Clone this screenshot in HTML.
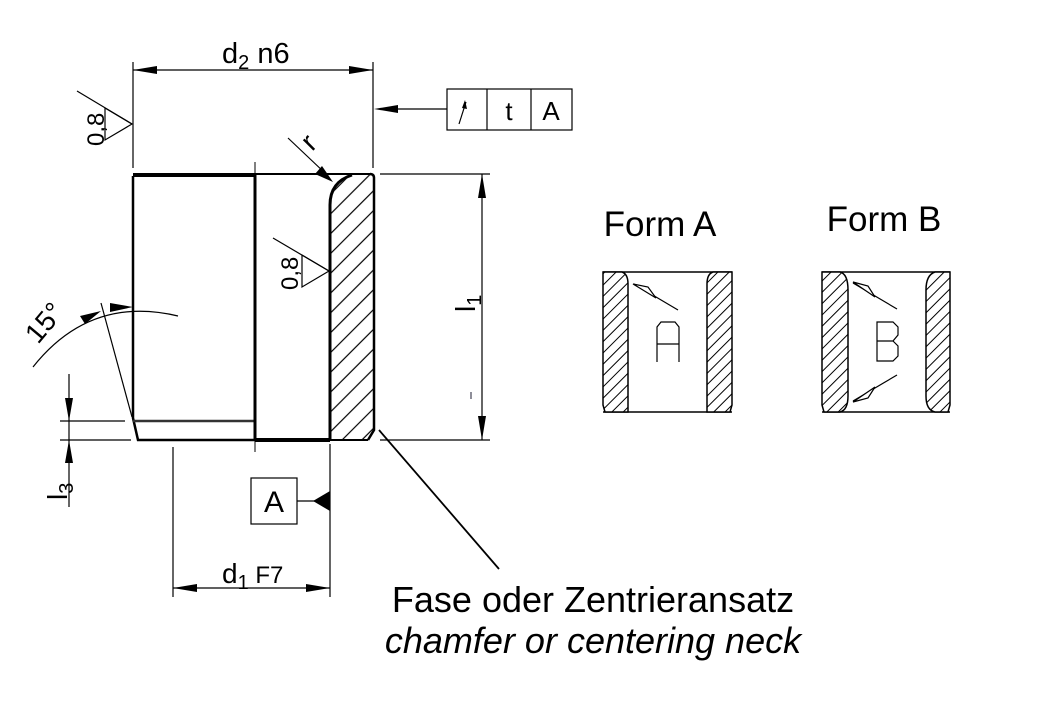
<!DOCTYPE html>
<html><head><meta charset="utf-8"><style>
html,body{margin:0;padding:0;background:#fff}
svg{display:block}
text{font-family:"Liberation Sans",sans-serif;fill:#000;stroke:none}
</style></head><body>
<svg width="1050" height="701" viewBox="0 0 1050 701" xmlns="http://www.w3.org/2000/svg">
<defs>
<pattern id="h" patternUnits="userSpaceOnUse" width="14" height="14" patternTransform="rotate(-45)">
<rect width="14" height="14" fill="#fff"/><line x1="0" y1="7" x2="14" y2="7" stroke="#000" stroke-width="1.2"/>
</pattern>
<pattern id="h2" patternUnits="userSpaceOnUse" width="8" height="8" patternTransform="rotate(-45)">
<rect width="8" height="8" fill="#fff"/><line x1="0" y1="4" x2="8" y2="4" stroke="#000" stroke-width="1"/>
</pattern>
</defs>
<g stroke="#000" fill="none">
<path d="M352,175 L371,175 Q373,175 373,178 L373,430 L368,440 L330,440 L330,205 Q330,182 352,175 Z" fill="url(#h)" stroke="none"/>
<line x1="133" y1="175" x2="255" y2="175" stroke-width="4"/>
<line x1="255" y1="174" x2="370" y2="174" stroke-width="2"/>
<path d="M370,174 Q374,174 374,178 L374,430 L368,440" stroke-width="2.5"/>
<path d="M133,176 L133,418 L138,440 L255,440" stroke-width="2.5"/>
<line x1="133" y1="421" x2="255" y2="421" stroke-width="2.5" stroke="#333"/>
<line x1="255" y1="174" x2="255" y2="440" stroke-width="3"/>
<line x1="255" y1="440" x2="330" y2="440" stroke-width="4"/>
<line x1="330" y1="440" x2="368" y2="440" stroke-width="2"/>
<path d="M330,440 L330,205 Q330,182 352,175" stroke-width="3"/>
<line x1="255" y1="162" x2="255" y2="174" stroke-width="1"/>
<line x1="255" y1="440" x2="255" y2="452" stroke-width="1"/>
<g stroke-width="1.2">
<line x1="133" y1="62" x2="133" y2="168"/>
<line x1="373" y1="62" x2="373" y2="168"/>
<line x1="133" y1="70" x2="373" y2="70"/>
<line x1="77" y1="91" x2="132" y2="124"/>
<polyline points="105,108 132,124 105,140 105,108"/>
<line x1="380" y1="109" x2="447" y2="109"/>
<rect x="447" y="89" width="125" height="41"/>
<line x1="487" y1="89" x2="487" y2="130"/>
<line x1="531" y1="89" x2="531" y2="130"/>
<line x1="459" y1="124" x2="466" y2="102"/>
<line x1="288" y1="138" x2="326" y2="174"/>
<line x1="273" y1="238" x2="329" y2="271"/>
<polyline points="302,255 329,271 302,287 302,255"/>
<line x1="380" y1="174" x2="490" y2="174"/>
<line x1="380" y1="440" x2="490" y2="440"/>
<line x1="482" y1="174" x2="482" y2="440"/>
<line x1="471" y1="392" x2="471" y2="399" stroke="#445"/>
<line x1="101" y1="303" x2="132" y2="417"/>
<path d="M33,367 Q90,295 178,316"/>
<line x1="69" y1="374" x2="69" y2="507"/>
<line x1="60" y1="421" x2="125" y2="421"/>
<line x1="60" y1="440" x2="131" y2="440"/>
<line x1="173" y1="447" x2="173" y2="597"/>
<line x1="330" y1="444" x2="330" y2="597"/>
<line x1="173" y1="588" x2="330" y2="588"/>
<rect x="251" y="478" width="46" height="46"/>
<line x1="297" y1="501" x2="318" y2="501"/>
<line x1="379" y1="430" x2="499" y2="569" stroke-width="1.8"/>
</g>
<g fill="#000" stroke="none">
<polygon points="133,70 157,66 157,74"/>
<polygon points="373,70 349,66 349,74"/>
<polygon points="374,109 398,105 398,113"/>
<polygon points="333,182 315,174 322,166"/>
<polygon points="482,174 478,198 486,198"/>
<polygon points="482,440 478,416 486,416"/>
<polygon points="101,311 80,316 85,324"/>
<polygon points="133,307 110,303 110,312"/>
<polygon points="69,421 65,398 73,398"/>
<polygon points="69,440 65,463 73,463"/>
<polygon points="173,588 197,584 197,592"/>
<polygon points="330,588 306,584 306,592"/>
<polygon points="313,501 330,491 330,511"/>
<polygon points="465,100 462,108 467,109"/>
</g>
</g>
<text x="222" y="63" font-size="29">d<tspan font-size="20" dy="6">2</tspan><tspan dy="-6"> n6</tspan></text>
<text transform="translate(104,146) rotate(-90)" font-size="24">0,8</text>
<text transform="translate(298,290) rotate(-90)" font-size="24">0,8</text>
<text x="509" y="120" font-size="26" text-anchor="middle">t</text>
<text x="551" y="120" font-size="26" text-anchor="middle">A</text>
<text x="274" y="512" font-size="30" text-anchor="middle">A</text>
<text transform="translate(312,152) rotate(-45)" font-size="28">r</text>
<text transform="translate(475,312) rotate(-90)" font-size="28">l<tspan font-size="20" dy="6">1</tspan></text>
<text transform="translate(67,500) rotate(-90)" font-size="28">l<tspan font-size="20" dy="6">3</tspan></text>
<text transform="translate(38,345) rotate(-50)" font-size="28">15°</text>
<text x="222" y="583" font-size="28">d<tspan font-size="20" dy="6">1</tspan><tspan dy="-6" font-size="24"> F7</tspan></text>
<text x="593" y="612" font-size="36" text-anchor="middle">Fase oder Zentrieransatz</text>
<text x="593" y="653" font-size="36" font-style="italic" text-anchor="middle">chamfer or centering neck</text>
<text x="660" y="236" font-size="35" text-anchor="middle">Form A</text>
<text x="884" y="231" font-size="35" text-anchor="middle">Form B</text>
<g stroke="#000" stroke-width="1.5" fill="none">
<line x1="603" y1="272" x2="732" y2="272"/>
<line x1="603" y1="412" x2="732" y2="412"/>
<path d="M603,272 L622,272 Q628,274 628,284 L628,412 L605,412 L603,405 Z" fill="url(#h2)"/>
<path d="M732,272 L713,272 Q707,274 707,284 L707,412 L730,412 L732,405 Z" fill="url(#h2)"/>
<line x1="678" y1="310" x2="634" y2="284" stroke-width="1.2"/>
<path d="M633,284 L648,287 L656,298 Z" fill="#fff" stroke-width="1.2"/>
<path d="M657,362 L657,327 L661,322 L675,322 L679,327 L679,362 M657,344 L679,344" stroke-width="1.2"/>
<line x1="822" y1="272" x2="950" y2="272"/>
<line x1="822" y1="412" x2="950" y2="412"/>
<path d="M822,272 L840,272 Q848,274 848,290 L848,396 Q848,410 840,412 L824,412 L822,405 Z" fill="url(#h2)"/>
<path d="M950,272 L935,272 Q926,275 926,290 L926,396 Q926,410 935,412 L948,412 L950,405 Z" fill="url(#h2)"/>
<line x1="897" y1="309" x2="853" y2="283" stroke-width="1.2"/>
<path d="M853,282 L868,286 L875,297 Z" fill="#fff" stroke-width="1.2"/>
<line x1="897" y1="375" x2="853" y2="401" stroke-width="1.2"/>
<path d="M853,402 L868,398 L875,387 Z" fill="#fff" stroke-width="1.2"/>
<path d="M877,322 L893,322 L898,327 L898,335 L893,341 L898,346 L898,356 L893,361 L877,361 Z M877,341 L893,341" stroke-width="1.2"/>
</g>
</svg>
</body></html>
